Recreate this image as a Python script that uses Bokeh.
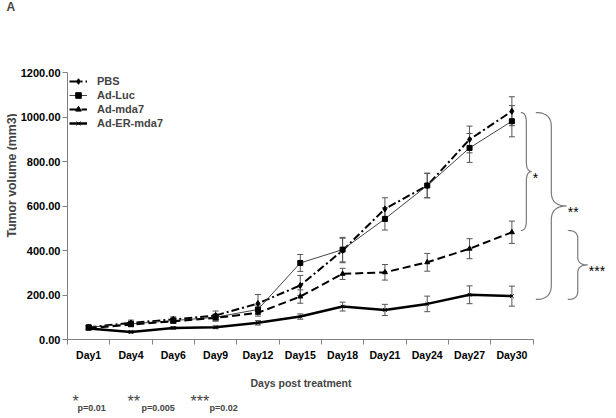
import numpy as np
from bokeh.plotting import figure
from bokeh.layouts import column, row
from bokeh.models import (ColumnDataSource, Whisker, TeeHead, FixedTicker,
                          NumeralTickFormatter, Label, Range1d)
from bokeh.embed import file_html
from bokeh.resources import INLINE

# ---------------- data ----------------
days = ["Day1", "Day4", "Day6", "Day9", "Day12", "Day15",
        "Day18", "Day21", "Day24", "Day27", "Day30"]
pbs = [55, 75, 90, 108, 162, 243, 400, 587, 692, 899, 1026]
pbs_err = [8, 12, 12, 20, 40, 45, 55, 50, 55, 60, 65]
luc = [55, 70, 85, 100, 135, 344, 404, 542, 692, 861, 981]
luc_err = [8, 10, 12, 15, 20, 38, 55, 50, 55, 65, 70]
mda7 = [50, 67, 82, 97, 120, 193, 295, 302, 347, 408, 482]
mda7_err = [8, 10, 10, 15, 15, 30, 25, 35, 40, 45, 50]
er = [49, 34, 52, 55, 75, 103, 148, 133, 160, 201, 195]
er_err = [6, 5, 6, 6, 10, 12, 20, 25, 35, 40, 45]

series_names = ["PBS", "Ad-Luc", "Ad-mda7", "Ad-ER-mda7"]
y_ticks = [0, 200, 400, 600, 800, 1000, 1200]
brace_spans = [(1020, 490), (1020, 180), (490, 180)]   # y-extent of significance braces
brace_marks = ["*", "**", "***"]
footnote_stars = ["*", "**", "***"]
footnote_p = ["p=0.01", "p=0.005", "p=0.02"]
x_title = "Days post treatment"
y_title = "Tumor volume (mm3)"
panel_letter = "A"

FONT = "Liberation Sans"

def strip(width, height):
    f = figure(width=width, height=height, output_backend="svg", toolbar_location=None,
               x_axis_type=None, y_axis_type=None, title=None,
               x_range=Range1d(0, width), y_range=Range1d(0, height),
               min_border_left=0, min_border_right=0,
               min_border_top=0, min_border_bottom=0)
    f.grid.visible = False
    f.outline_line_color = None
    f.background_fill_color = "white"
    f.border_fill_color = "white"
    return f

# ---------------- layout ----------------
LW = 17            # left strip (panel letter + y title)
TOTAL_W, TOTAL_H = 612, 414
W = TOTAL_W - LW
H = 372
ML, MR, MT, MB = 49, 6, 72, 33
FRAME_LEFT = LW + ML          # screen x of the plot frame's left edge
frame_w = W - ML - MR
frame_h = H - MT - MB
px_per_day = 42.4
x_start = 0.5
x_end = x_start + frame_w / px_per_day
ymax = 1200
dx = (x_end - x_start) / frame_w     # data units per pixel (x)
dy = ymax / frame_h                  # data units per pixel (y)

p = figure(width=W, height=H, output_backend="svg", toolbar_location=None, title=None,
           x_range=Range1d(x_start, x_end), y_range=Range1d(0, ymax),
           min_border_left=ML, min_border_right=MR,
           min_border_top=MT, min_border_bottom=MB)
p.outline_line_color = None
p.xgrid.visible = False
p.ygrid.visible = False
p.background_fill_color = "white"
p.border_fill_color = "white"

xs = list(range(1, len(days) + 1))

styles = [
    (pbs, pbs_err, dict(line_width=2, line_dash="8 3 2 3", line_color="black"),
     dict(marker="diamond", size=6)),
    (luc, luc_err, dict(line_width=1, line_color="#444444"),
     dict(marker="square", size=5)),
    (mda7, mda7_err, dict(line_width=2, line_dash="8 4", line_color="black"),
     dict(marker="triangle", size=5)),
    (er, er_err, dict(line_width=2.5, line_color="black"),
     dict(marker="x", size=5)),
]

for name, (vals, errs, lkw, mkw) in zip(series_names, styles):
    src = ColumnDataSource(dict(
        x=xs, y=vals,
        upper=[v + e for v, e in zip(vals, errs)],
        lower=[v - e for v, e in zip(vals, errs)]))
    wk = Whisker(source=src, base="x", upper="upper", lower="lower",
                 line_color="#555555", line_width=1,
                 upper_head=TeeHead(size=6, line_color="#555555", line_width=1),
                 lower_head=TeeHead(size=6, line_color="#555555", line_width=1))
    p.add_layout(wk)
    p.line("x", "y", source=src, legend_label=name, **lkw)
    p.scatter("x", "y", source=src, legend_label=name, line_color="black",
              fill_color="black", line_width=1, **mkw)

# ---------------- braces ----------------
def qbez(p0, c, p1, n=20):
    t = np.linspace(0, 1, n)
    bx = (1 - t) ** 2 * p0[0] + 2 * (1 - t) * t * c[0] + t ** 2 * p1[0]
    by = (1 - t) ** 2 * p0[1] + 2 * (1 - t) * t * c[1] + t ** 2 * p1[1]
    return list(bx), list(by)

def brace(x_end_px, w_px, r_px, ytop, ybot):
    x0 = len(days) + x_end_px * dx
    xv = x0 + w_px * dx
    xt = xv + w_px * dx
    r = r_px * dy
    ym = (ytop + ybot) / 2
    bx, by = [], []
    for seg in [qbez((x0, ytop), (xv, ytop), (xv, ytop - r)),
                qbez((xv, ym + r), (xv, ym), (xt, ym)),
                qbez((xt, ym), (xv, ym), (xv, ym - r)),
                qbez((xv, ybot + r), (xv, ybot), (x0, ybot))]:
        bx += seg[0]
        by += seg[1]
    return bx, by, xt

brace_geom = [(9, 5.5, 10), (24, 15.5, 14), (56, 10, 8)]
for (top, bot), mark, (off, w, r) in zip(brace_spans, brace_marks, brace_geom):
    bx, by, xt = brace(off, w, r, top, bot)
    p.line(bx, by, line_color="#7a7a7a", line_width=1.2)
    p.add_layout(Label(x=xt, y=(top + bot) / 2, text=mark, x_offset=1, y_offset=-6,
                       text_font=FONT, text_font_size="14px",
                       text_baseline="middle", text_align="left", text_color="black"))

# ---------------- axes ----------------
xa = p.xaxis[0]
xa.ticker = FixedTicker(ticks=xs, minor_ticks=[i + 0.5 for i in range(len(days) + 1)])
xa.major_label_overrides = {i: d for i, d in zip(xs, days)}
xa.bounds = (0.5, len(days) + 0.5)
xa.major_tick_line_color = None
xa.major_tick_out = 0
xa.major_tick_in = 0
xa.minor_tick_out = 5
xa.minor_tick_in = 0
xa.minor_tick_line_color = "#808080"
xa.axis_line_color = "#808080"
xa.major_label_standoff = 4
xa.major_label_text_font = FONT
xa.major_label_text_font_size = "10.5px"
xa.major_label_text_font_style = "bold"
xa.major_label_text_color = "black"

ya = p.yaxis[0]
ya.ticker = FixedTicker(ticks=y_ticks, minor_ticks=[])
ya.formatter = NumeralTickFormatter(format="0.00")
ya.bounds = (0, ymax)
ya.major_tick_out = 5
ya.major_tick_in = 0
ya.major_tick_line_color = "#808080"
ya.axis_line_color = "#808080"
ya.major_label_standoff = 2
ya.major_label_text_font = FONT
ya.major_label_text_font_size = "11px"
ya.major_label_text_font_style = "bold"
ya.major_label_text_color = "black"

# ---------------- legend ----------------
lg = p.legend[0]
lg.location = "top_left"
lg.margin = 2
lg.padding = 4
lg.spacing = 0
lg.border_line_color = None
lg.background_fill_alpha = 0
lg.label_text_font = FONT
lg.label_text_font_size = "11px"
lg.label_text_font_style = "bold"
lg.glyph_width = 18
lg.glyph_height = 14
lg.label_height = 14
lg.label_standoff = 10

# ---------------- left strip: panel letter + y title ----------------
left = strip(LW, TOTAL_H)
left.add_layout(Label(x=6, y=TOTAL_H + 1, x_units="screen", y_units="screen",
                      text=panel_letter, text_font=FONT, text_font_size="12px",
                      text_font_style="bold", text_align="left", text_baseline="top"))
left.add_layout(Label(x=11, y=TOTAL_H - 175, x_units="screen", y_units="screen",
                      text=y_title, angle=np.pi / 2,
                      text_font=FONT, text_font_size="12.3px", text_font_style="bold",
                      text_align="center", text_baseline="middle"))

# ---------------- bottom strip: x title + footnotes ----------------
# (the strip's frame is aligned with the main plot's frame in the column)
BH = TOTAL_H - H
foot = strip(W, BH)
foot.add_layout(Label(x=299.5 - FRAME_LEFT, y=BH - 10, x_units="screen", y_units="screen",
                      text=x_title, text_font=FONT, text_font_size="10.5px",
                      text_font_style="bold", text_align="center", text_baseline="middle"))
star_x = [71, 126, 189]
p_x = [76, 140, 208]
for s, pv, sx, px in zip(footnote_stars, footnote_p, star_x, p_x):
    foot.add_layout(Label(x=sx - FRAME_LEFT, y=13, x_units="screen", y_units="screen",
                          text=s, text_font=FONT, text_font_size="16px",
                          text_align="left", text_baseline="alphabetic"))
    foot.add_layout(Label(x=px - FRAME_LEFT, y=7, x_units="screen", y_units="screen",
                          text=pv, text_font=FONT, text_font_size="9px",
                          text_font_style="bold",
                          text_align="left", text_baseline="alphabetic"))

layout = row(left, column(p, foot, spacing=0), spacing=0)
open("out.html", "w").write(file_html(layout, INLINE))
